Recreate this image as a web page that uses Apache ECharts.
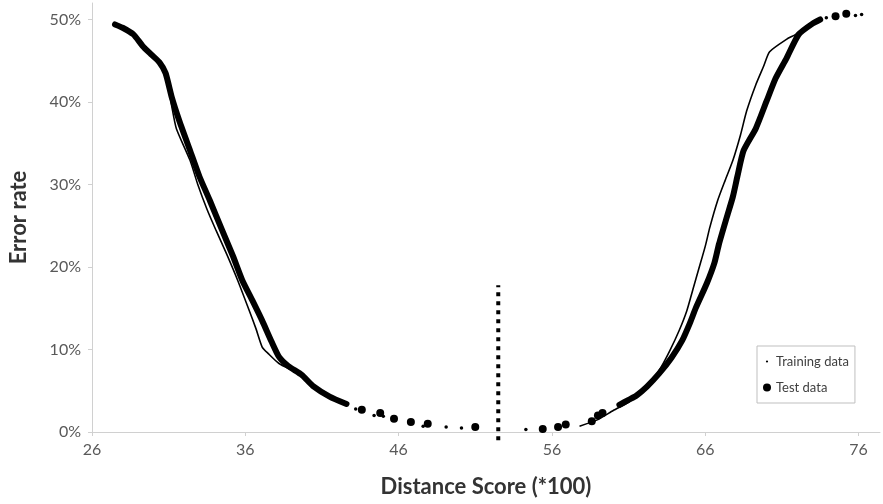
<!DOCTYPE html>
<html>
<head>
<meta charset="utf-8">
<script src="https://cdn.jsdelivr.net/npm/echarts@6/dist/echarts.min.js"></script>
<style>
  html, body { margin: 0; padding: 0; background: #fff; }
  #chart { width: 883px; height: 504px; }
</style>
</head>
<body>
<div id="chart"></div>
<script>
  // x = distance score (*100), y = error rate in %
  const trainLeft = [[27.5, 49.4], [28.7, 48.2], [29.9, 45.7], [30.8, 43.5], [31.2, 39.5], [31.5, 36.8],
    [32.4, 32.9], [32.9, 30.0], [33.5, 27.0], [34.1, 24.4], [34.8, 21.5], [35.5, 18.4], [36.2, 15.0],
    [36.7, 12.5], [37.1, 10.3], [37.5, 9.5], [38.2, 8.3], [39.5, 7.0], [40.4, 5.4], [41.5, 4.2], [42.6, 3.2]];
  const trainRight = [[57.8, 0.7], [59.0, 1.5], [60.0, 2.6], [61.0, 3.6], [61.8, 4.7], [62.4, 5.9],
    [63.1, 7.8], [63.7, 9.9], [64.3, 12.3], [64.8, 14.7], [65.2, 17.3], [65.6, 19.9], [66.0, 22.5],
    [66.3, 24.8], [66.8, 28.0], [67.3, 30.5], [67.8, 32.9], [68.3, 36.0], [68.7, 38.9], [69.3, 42.1],
    [69.8, 44.3], [70.2, 46.1], [71.3, 47.6], [71.9, 48.2], [72.6, 49.2], [73.4, 50.0]];
  const trainTail = [[43.2, 2.8], [44.4, 2.0], [45.0, 1.9], [47.6, 0.7], [49.1, 0.6], [50.1, 0.5],
    [54.3, 0.3], [73.9, 50.2], [75.8, 50.5], [76.2, 50.6]];

  const testLeft = [[27.5, 49.4], [28.0, 49.0], [28.7, 48.2], [29.3, 46.8], [29.9, 45.7], [30.4, 44.8],
    [30.8, 43.5], [31.2, 40.6], [31.7, 37.7], [32.4, 34.1], [33.0, 31.0], [33.7, 28.0], [34.5, 24.4],
    [35.2, 21.3], [35.8, 18.4], [36.5, 15.8], [37.1, 13.5], [37.7, 11.0], [38.2, 9.1], [38.8, 8.0],
    [39.7, 6.9], [40.4, 5.6], [41.5, 4.3], [42.6, 3.4]];
  const testRight = [[60.4, 3.3], [61.0, 3.9], [61.5, 4.4], [62.2, 5.5], [63.0, 7.1], [63.8, 9.0],
    [64.5, 11.1], [65.0, 13.2], [65.4, 15.1], [66.1, 18.0], [66.6, 20.5], [66.9, 22.8], [67.4, 26.0],
    [67.8, 28.5], [68.1, 31.0], [68.5, 34.1], [69.3, 36.8], [70.0, 40.1], [70.6, 42.9], [71.3, 45.3],
    [72.1, 48.2], [73.0, 49.5], [73.5, 50.0]];
  const testTail = [[43.6, 2.7], [44.8, 2.3], [45.7, 1.6], [46.8, 1.2], [47.9, 1.0], [51.0, 0.6],
    [55.4, 0.35], [56.4, 0.6], [56.9, 0.9], [58.6, 1.3], [59.0, 2.0], [59.3, 2.3], [74.5, 50.4], [75.2, 50.7]];

  // threshold marker
  const cutLine = [[52.5, -1.0], [52.5, 17.8]];

  const xTicks = { min: 26, max: 77.4, interval: 10 };
  const yTicks = { min: 0, max: 52, interval: 10 };

  const font = 'Lato, "Open Sans", sans-serif';
  const axisGrey = '#d0d0d0';

  const chart = echarts.init(document.getElementById('chart'), null, { renderer: 'canvas' });
  chart.setOption({
    animation: false,
    textStyle: { fontFamily: font },
    grid: { left: 92, right: 3, top: 3, bottom: 72 },
    legend: {
      orient: 'vertical',
      left: 757,
      top: 346,
      padding: [9, 6, 9, 6],
      itemGap: 13,
      itemWidth: 8,
      itemHeight: 8,
      borderColor: '#bfbfbf',
      borderWidth: 1,
      textStyle: { fontFamily: font, fontSize: 13, color: '#404040' },
      data: [
        { name: 'Training data', icon: 'path://M0,0M10,10M3.6,5A1.4,1.4,0,1,1,6.4,5A1.4,1.4,0,1,1,3.6,5Z', itemStyle: { color: '#000' } },
        { name: 'Test data', icon: 'circle', itemStyle: { color: '#000' } }
      ]
    },
    xAxis: {
      type: 'value',
      min: xTicks.min,
      max: xTicks.max,
      interval: xTicks.interval,
      name: 'Distance Score (*100)',
      nameLocation: 'middle',
      nameGap: 44,
      nameTextStyle: { fontFamily: font, fontSize: 22, fontWeight: 'bold', color: '#333' },
      splitLine: { show: false },
      axisLine: { lineStyle: { color: axisGrey } },
      axisTick: { show: true, length: 4, lineStyle: { color: axisGrey } },
      axisLabel: { fontFamily: font, fontSize: 16, color: '#595959', margin: 10, showMaxLabel: false }
    },
    yAxis: {
      type: 'value',
      min: yTicks.min,
      max: yTicks.max,
      interval: yTicks.interval,
      name: 'Error rate',
      nameLocation: 'middle',
      nameGap: 62,
      nameTextStyle: { fontFamily: font, fontSize: 22, fontWeight: 'bold', color: '#333' },
      splitLine: { show: false },
      axisLine: { show: true, lineStyle: { color: axisGrey } },
      axisTick: { show: true, length: 4, lineStyle: { color: axisGrey } },
      axisLabel: { fontFamily: font, fontSize: 16, color: '#595959', margin: 11, showMaxLabel: false, formatter: '{value}%' }
    },
    series: [
      {
        name: 'Training data', type: 'line', data: trainLeft, showSymbol: false, smooth: 0.2, z: 3,
        lineStyle: { color: '#000', width: 1.6 }, itemStyle: { color: '#000' }
      },
      {
        name: 'Training data', type: 'line', data: trainRight, showSymbol: false, smooth: 0.2, z: 3,
        lineStyle: { color: '#000', width: 1.6 }, itemStyle: { color: '#000' }
      },
      {
        name: 'Training data', type: 'scatter', data: trainTail, symbolSize: 3.5, z: 3,
        itemStyle: { color: '#000', opacity: 1 }
      },
      {
        name: 'Test data', type: 'line', data: testLeft, showSymbol: false, smooth: 0.2, z: 2,
        lineStyle: { color: '#000', width: 6, cap: 'round', join: 'round' }, itemStyle: { color: '#000' }
      },
      {
        name: 'Test data', type: 'line', data: testRight, showSymbol: false, smooth: 0.2, z: 2,
        lineStyle: { color: '#000', width: 6, cap: 'round', join: 'round' }, itemStyle: { color: '#000' }
      },
      {
        name: 'Test data', type: 'scatter', data: testTail, symbolSize: 8, z: 2,
        itemStyle: { color: '#000', opacity: 1 }
      },
      {
        name: 'cut', type: 'line', data: cutLine, showSymbol: false, clip: false, z: 1,
        lineStyle: { color: '#000', width: 4, type: [4, 5] }
      }
    ]
  });
</script>
</body>
</html>
